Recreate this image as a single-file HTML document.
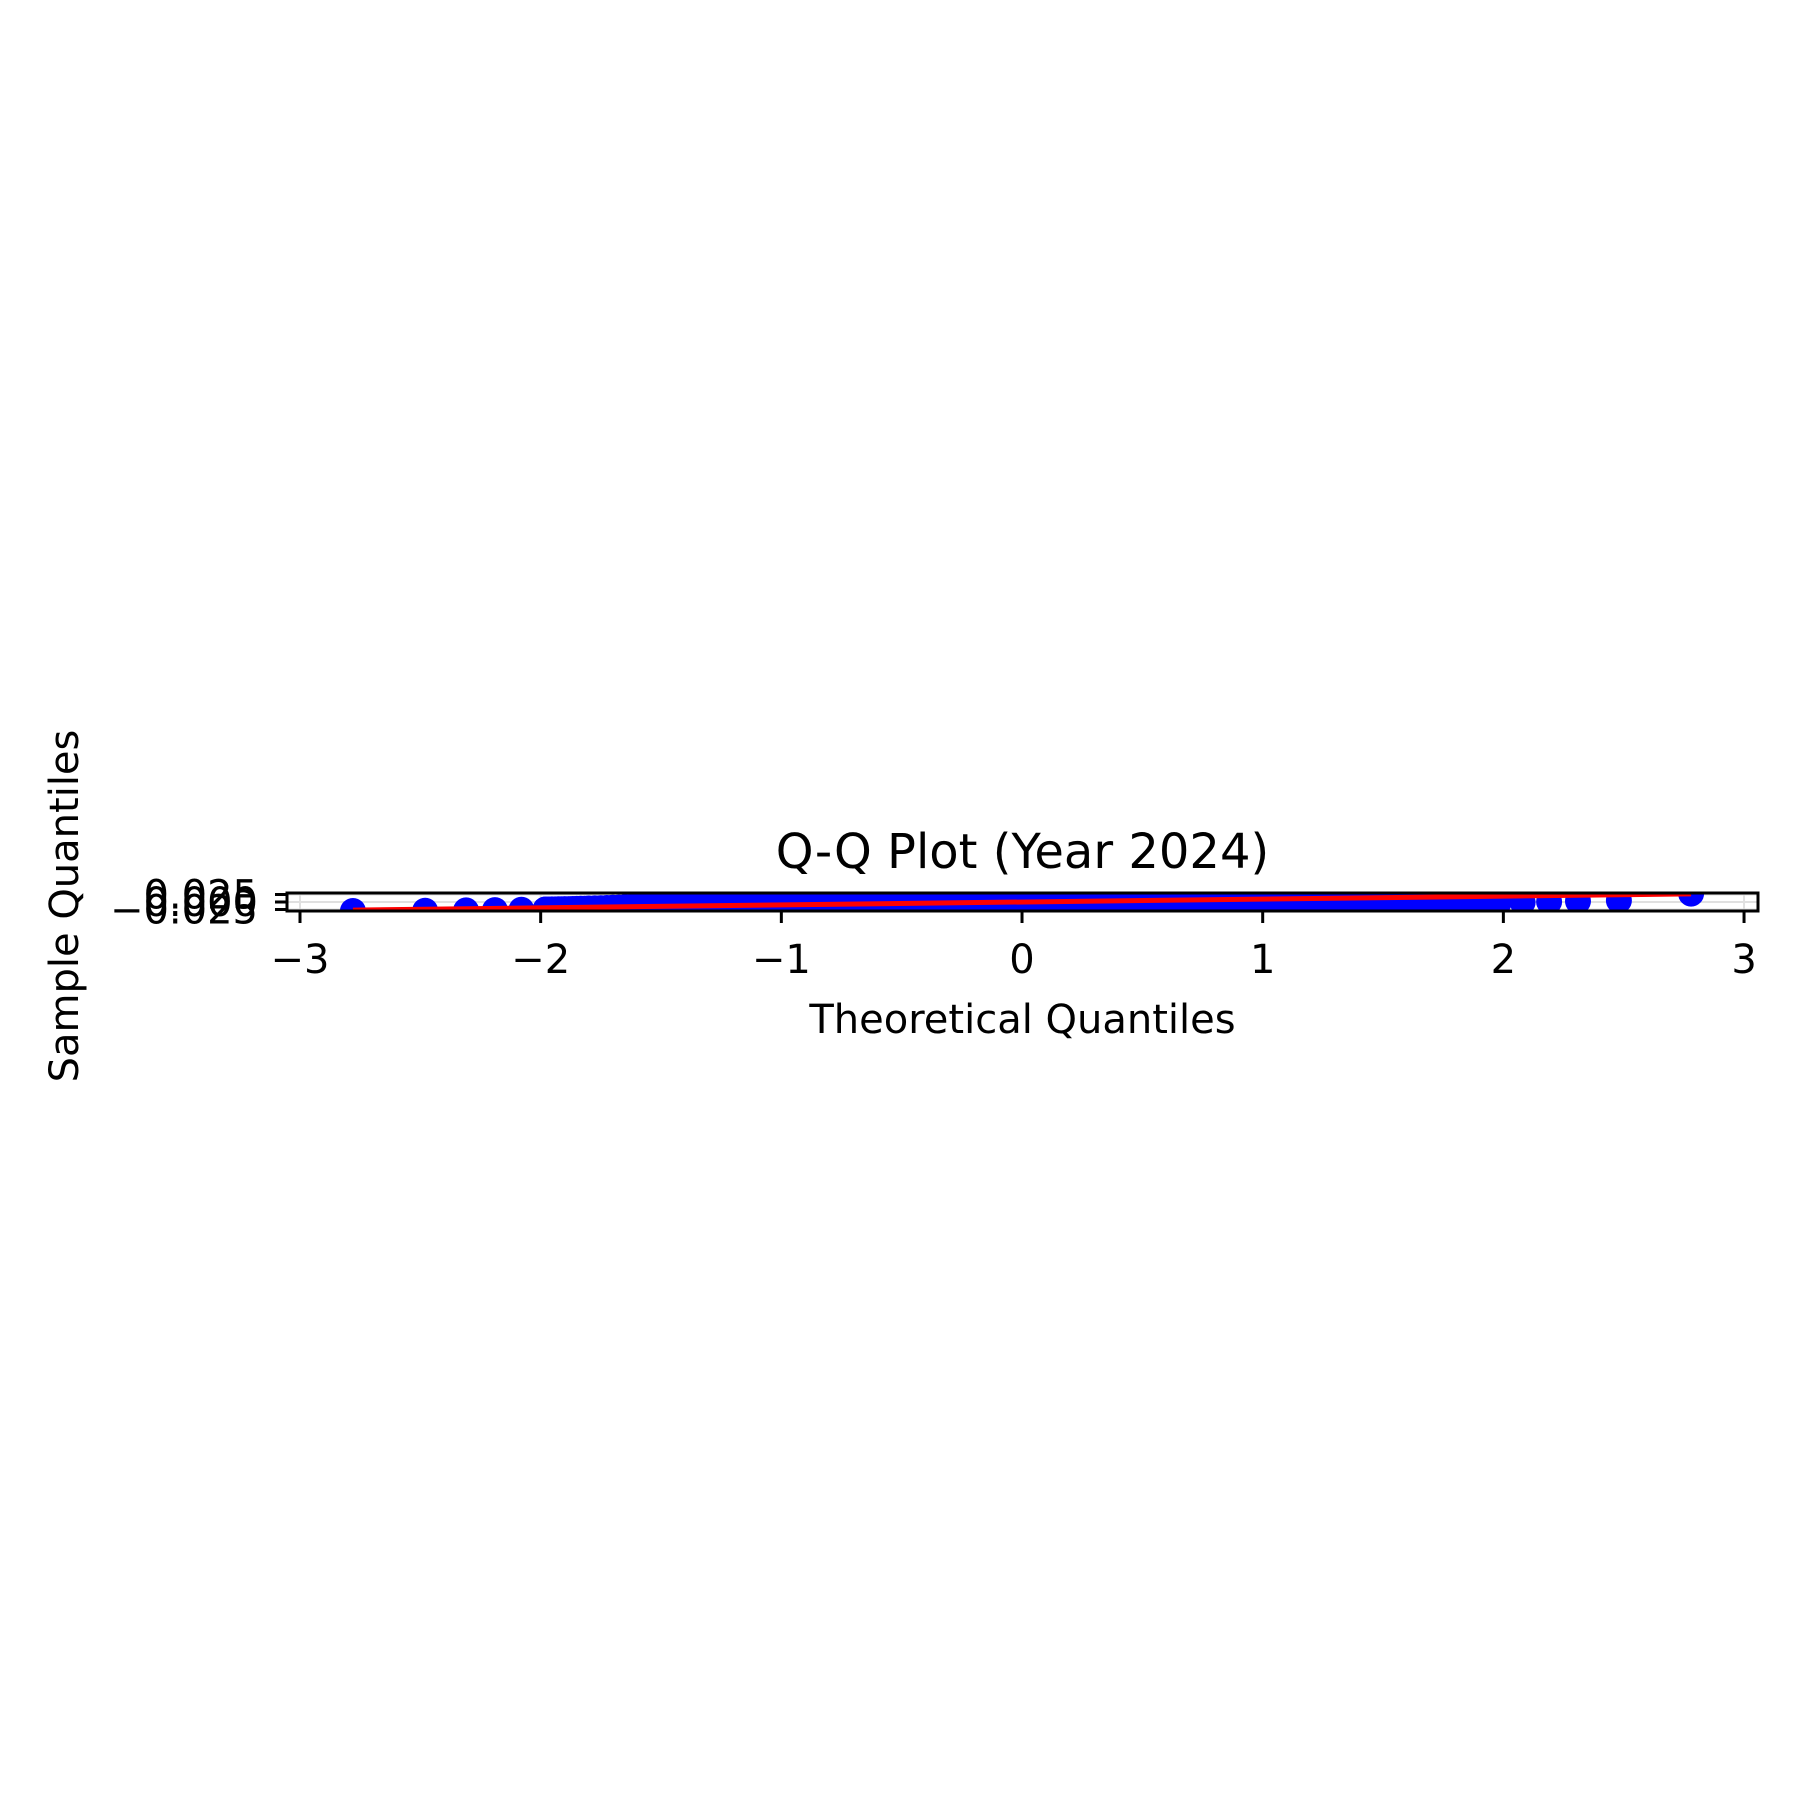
<!DOCTYPE html>
<html><head><meta charset="utf-8"><style>
body{margin:0;background:#fff}
svg text{font-family:"DejaVu Sans","Liberation Sans",sans-serif;fill:#000}
</style></head><body>
<svg width="1800" height="1800" viewBox="0 0 1800 1800">
<rect width="1800" height="1800" fill="#fff"/>
<g id="plot"></g>
</svg>
<script>
const theoretical=[-2.78,-2.48,-2.31,-2.19,-2.08,-1.98,-1.9,-1.8,-1.65,-1.5,-1.35,-1.2,-1.05,-0.9,-0.75,-0.6,-0.45,-0.3,-0.15,0,0.15,0.3,0.45,0.6,0.75,0.9,1.05,1.2,1.35,1.5,1.65,1.8,1.9,1.98,2.08,2.19,2.31,2.48,2.78];
const sample=[-0.030,-0.029,-0.028,-0.027,-0.026,-0.025,-0.024,-0.022,-0.018,-0.015,-0.012,-0.010,-0.008,-0.007,-0.006,-0.005,-0.004,-0.003,-0.002,-0.001,0.000,0.001,0.001,0.002,0.002,0.003,0.003,0.002,0.001,0.000,-0.002,-0.004,-0.004,-0.003,-0.001,0.001,0.003,0.005,0.028];
const lineX=[-2.78,2.78];
const lineY=[-0.027,0.027];
const xTicks=[-3,-2,-1,0,1,2,3];
const xTickLabels=["\u22123","\u22122","\u22121","0","1","2","3"];
const yTicks=[-0.025,0,0.025];
const yTickLabels=["\u22120.025","0.000","0.025"];

const L=287,R=1758,T=893,B=911;
const xmin=-3.054,xmax=3.058,ymin=-0.03,ymax=0.03;
const sx=v=>L+(v-xmin)/(xmax-xmin)*(R-L);
const sy=v=>B-(v-ymin)/(ymax-ymin)*(B-T);
const NS="http://www.w3.org/2000/svg";
const g=document.getElementById('plot');
function mk(tag,attrs,parent){const e=document.createElementNS(NS,tag);for(const k in attrs)e.setAttribute(k,attrs[k]);(parent||g).appendChild(e);return e;}
const defs=mk('defs',{});const cp=mk('clipPath',{id:'clip'},defs);mk('rect',{x:L,y:T,width:R-L,height:B-T},cp);
const bg=mk('rect',{x:L,y:T,width:R-L,height:B-T,fill:'#fff'});


xTicks.forEach(v=>{const gl=mk('line',{x1:sx(v),x2:sx(v),y1:T,y2:B,stroke:'#e0e0e0','stroke-width':2});

});
yTicks.forEach(v=>{const gl=mk('line',{x1:L,x2:R,y1:sy(v),y2:sy(v),stroke:'#e0e0e0','stroke-width':2});

});
const pts=mk('g',{'clip-path':'url(#clip)'});


theoretical.forEach((t,i)=>{if(i<theoretical.length-1){const t2=theoretical[i+1],s2=sample[i+1];if(Math.abs(t)<2&&Math.abs(t2)<2.01){for(let k=0;k<6;k++){const f=k/6;const c=mk('circle',{cx:sx(t+(t2-t)*f),cy:sy(sample[i]+(s2-sample[i])*f),r:13,fill:'#0000ff'},pts);

}}}});
theoretical.forEach((t,i)=>{const c=mk('circle',{cx:sx(t),cy:sy(sample[i]),r:13,fill:'#0000ff'},pts);

});
const ln=mk('line',{x1:sx(lineX[0]),y1:sy(lineY[0]),x2:sx(lineX[1]),y2:sy(lineY[1]),stroke:'#ff0000','stroke-width':5,'clip-path':'url(#clip)'});


const fr=mk('rect',{x:L,y:T,width:R-L,height:B-T,fill:'none',stroke:'#000','stroke-width':3});


xTicks.forEach((v,i)=>{const tk=mk('line',{x1:sx(v),x2:sx(v),y1:B,y2:B+12,stroke:'#000','stroke-width':3});


const tx=mk('text',{x:sx(v),y:973,'font-size':40,'text-anchor':'middle'});tx.textContent=xTickLabels[i];

});
yTicks.forEach((v,i)=>{const tk=mk('line',{x1:L-12,x2:L,y1:sy(v),y2:sy(v),stroke:'#000','stroke-width':3});


const tx=mk('text',{x:L-29,y:sy(v)+14,'font-size':40,'text-anchor':'end'});tx.textContent=yTickLabels[i];

});
const ti=mk('text',{x:(L+R)/2,y:868,'font-size':48,'text-anchor':'middle'});ti.textContent='Q-Q Plot (Year 2024)';


const xl=mk('text',{x:(L+R)/2,y:1033,'font-size':40,'text-anchor':'middle'});xl.textContent='Theoretical Quantiles';


const yl=mk('text',{x:0,y:0,'font-size':40,'text-anchor':'middle',transform:'translate(78,906) rotate(-90)'});yl.textContent='Sample Quantiles';


</script>
</body></html>
